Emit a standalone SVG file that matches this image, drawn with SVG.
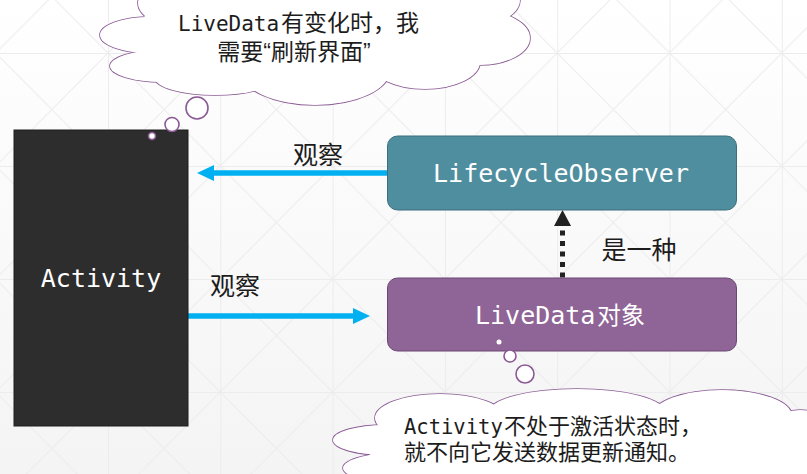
<svg xmlns="http://www.w3.org/2000/svg" width="807" height="474" viewBox="0 0 807 474">
<style>
.grid{stroke:#ececec;stroke-width:1;fill:none}
.lobe{fill:#fff;stroke:#8a5a94;stroke-width:1.6}
.lobefill{fill:#fff;stroke:none}
.cj{font-family:"Liberation Sans","Noto Sans CJK SC",sans-serif;fill:#1c1c1c}
.mono{font-family:"DejaVu Sans Mono","Noto Sans CJK SC",monospace;fill:#1c1c1c}
.boxtext{font-family:"DejaVu Sans Mono","Noto Sans CJK SC",monospace;fill:#fff;font-size:25px}
.boxcj{font-family:"Noto Sans CJK SC",sans-serif;fill:#fff;font-size:24px}
.blue{stroke:#00b0f0;stroke-width:5.5;fill:none}
</style>
<defs>
<linearGradient id="bg" x1="0" y1="0" x2="0" y2="1">
<stop offset="0" stop-color="#ffffff"/>
<stop offset="1" stop-color="#f4f4f4"/>
</linearGradient>
<pattern id="grid" x="-4.3" y="-60" width="112.3" height="113" patternUnits="userSpaceOnUse">
<path class="grid" d="M0,0.5 H112.3 M0.5,0 V113 M0,0 L112.3,113 M112.3,0 L0,113"/>
</pattern>
</defs>
<rect width="807" height="474" fill="url(#bg)"/>
<rect width="807" height="474" fill="url(#grid)"/>

<g id="connectors">
<line class="blue" x1="387" y1="173" x2="211" y2="173"/>
<polygon points="197,173 214,165 214,181" fill="#00b0f0"/>
<line class="blue" x1="188" y1="316" x2="356" y2="316"/>
<polygon points="370,316 353,308 353,324" fill="#00b0f0"/>
<line x1="562.5" y1="277.5" x2="562.5" y2="226" stroke="#222" stroke-width="5" stroke-dasharray="5 5.5"/>
<polygon points="562.5,210 554,226 571,226" fill="#222"/>
<text class="cj" x="318" y="164" font-size="25" text-anchor="middle">观察</text>
<text class="cj" x="235" y="295" font-size="25" text-anchor="middle">观察</text>
<text class="cj" x="639" y="259" font-size="25" text-anchor="middle">是一种</text>
</g>

<g id="activity">
<rect x="14" y="130" width="174" height="296" fill="#2d2d2d" stroke="#1e1e1e" stroke-width="1"/>
<text class="boxtext" x="101" y="287" text-anchor="middle">Activity</text>
</g>

<g id="lifecycleobserver">
<rect x="387.5" y="136" width="349" height="74" rx="10" fill="#4f8e9e" stroke="#3b6f7c" stroke-width="1"/>
<text class="boxtext" x="561" y="182" text-anchor="middle">LifecycleObserver</text>
</g>

<g id="livedata">
<rect x="387.5" y="278" width="349" height="73" rx="10" fill="#8f6496" stroke="#6b4873" stroke-width="1"/>
<text class="boxtext" x="475" y="324">LiveData<tspan class="boxcj" x="597" y="324">对象</tspan></text>
</g>

<g id="cloud-top">
<circle class="lobe" cx="197" cy="108" r="11"/>
<circle class="lobe" cx="172" cy="124.5" r="7"/>
<circle class="lobe" cx="152" cy="136" r="3.5"/>
<g>
<ellipse class="lobe" cx="150" cy="35" rx="50" ry="18"/>
<ellipse class="lobe" cx="162" cy="66" rx="52" ry="16"/>
<ellipse class="lobe" cx="215" cy="78" rx="60" ry="17"/>
<ellipse class="lobe" cx="315" cy="70" rx="75" ry="35"/>
<ellipse class="lobe" cx="425" cy="62" rx="55" ry="27"/>
<ellipse class="lobe" cx="480" cy="38" rx="50" ry="27"/>
<ellipse class="lobe" cx="470" cy="0" rx="50" ry="27"/>
<ellipse class="lobe" cx="195" cy="3" rx="57" ry="27"/>
</g>
<g>
<ellipse class="lobefill" cx="150" cy="35" rx="50" ry="18"/>
<ellipse class="lobefill" cx="162" cy="66" rx="52" ry="16"/>
<ellipse class="lobefill" cx="215" cy="78" rx="60" ry="17"/>
<ellipse class="lobefill" cx="315" cy="70" rx="75" ry="35"/>
<ellipse class="lobefill" cx="425" cy="62" rx="55" ry="27"/>
<ellipse class="lobefill" cx="480" cy="38" rx="50" ry="27"/>
<ellipse class="lobefill" cx="470" cy="0" rx="50" ry="27"/>
<ellipse class="lobefill" cx="195" cy="3" rx="57" ry="27"/>
<polygon class="lobefill" points="150,0 480,0 480,50 420,60 320,75 220,70 160,55 140,30"/>
</g>
<text class="mono" x="178" y="31" font-size="21">LiveData</text>
<text class="cj" x="281" y="31" font-size="23">有变化时，我</text>
<text class="cj" x="294" y="60" font-size="23" text-anchor="middle">需要“刷新界面”</text>
</g>

<g id="cloud-bottom">
<circle cx="499" cy="342" r="2.5" fill="#fff"/>
<circle class="lobe" cx="510" cy="356" r="6"/>
<circle class="lobe" cx="525" cy="374" r="9"/>
<g>
<ellipse class="lobe" cx="440" cy="418" rx="65" ry="24"/>
<ellipse class="lobe" cx="577" cy="412" rx="88" ry="23"/>
<ellipse class="lobe" cx="722" cy="416" rx="70" ry="26"/>
<ellipse class="lobe" cx="800" cy="445" rx="40" ry="35"/>
<ellipse class="lobe" cx="385" cy="440" rx="52" ry="15"/>
<ellipse class="lobe" cx="405" cy="468" rx="62" ry="16"/>
<ellipse class="lobe" cx="720" cy="470" rx="80" ry="22"/>
</g>
<g>
<ellipse class="lobefill" cx="440" cy="418" rx="65" ry="24"/>
<ellipse class="lobefill" cx="577" cy="412" rx="88" ry="23"/>
<ellipse class="lobefill" cx="722" cy="416" rx="70" ry="26"/>
<ellipse class="lobefill" cx="800" cy="445" rx="40" ry="35"/>
<ellipse class="lobefill" cx="385" cy="440" rx="52" ry="15"/>
<ellipse class="lobefill" cx="405" cy="468" rx="62" ry="16"/>
<ellipse class="lobefill" cx="720" cy="470" rx="80" ry="22"/>
<polygon class="lobefill" points="380,425 440,410 577,405 722,410 807,420 807,474 360,474 370,455"/>
</g>
<text class="mono" x="404" y="434" font-size="20.5">Activity</text>
<text class="cj" x="504" y="434" font-size="22">不处于激活状态时，</text>
<text class="cj" x="404" y="459.5" font-size="22">就不向它发送数据更新通知。</text>
</g>
</svg>
